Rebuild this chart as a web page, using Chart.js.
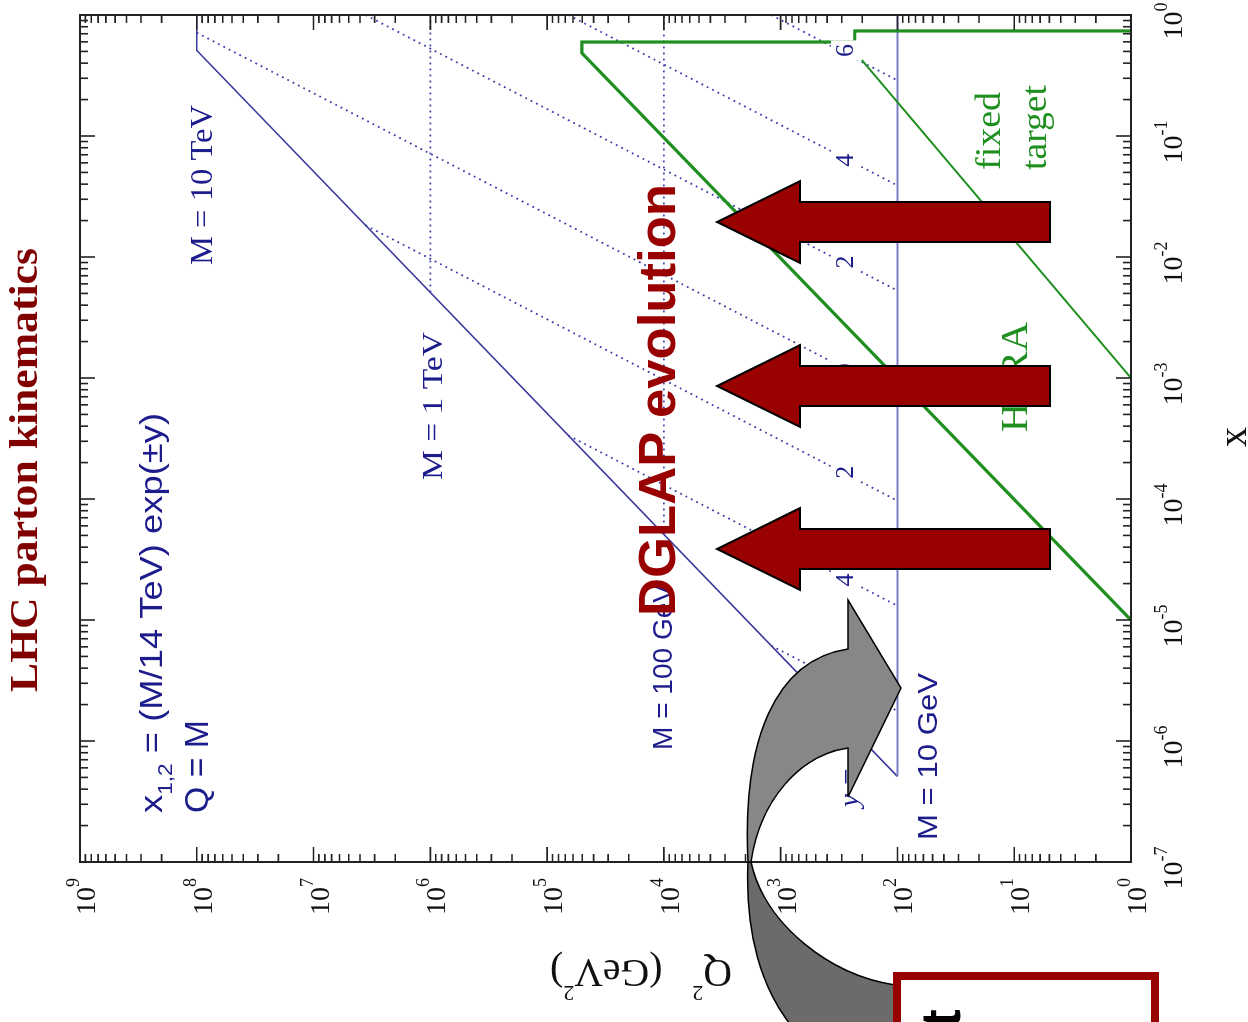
<!DOCTYPE html>
<html>
<head>
<meta charset="utf-8">
<script src="https://cdn.jsdelivr.net/npm/chart.js@4.4.1/dist/chart.umd.min.js"></script>
<style>
  html, body { margin: 0; padding: 0; background: #fff; }
  body { width: 1248px; height: 1022px; position: relative; overflow: hidden; }
  #wrap { position: absolute; left: 113px; top: -113px; width: 1022px; height: 1248px; transform: rotate(-90deg); }
  #overlay { position: absolute; left: 0; top: 0; }
</style>
</head>
<body>
<div id="wrap"><canvas id="kin" width="1022" height="1248"></canvas></div>

<svg id="overlay" width="1248" height="1022" xmlns="http://www.w3.org/2000/svg">
  <text transform="translate(675,616) rotate(-90)" font-family="Liberation Sans, Arial, sans-serif" font-weight="bold" font-size="52" fill="#990000" textLength="432" lengthAdjust="spacingAndGlyphs">DGLAP evolution</text>
  <g fill="#990000" stroke="#000" stroke-width="2" stroke-linejoin="miter">
    <polygon points="1050,202 800,202 800,181 717,222 800,263 800,242 1050,242"/>
    <polygon points="1050,366 800,366 800,345 717,386 800,427 800,406 1050,406"/>
    <polygon points="1050,529 800,529 800,508 717,549 800,590 800,569 1050,569"/>
  </g>
  <g stroke="#000" stroke-width="1.5">
    <path fill="#6b6b6b" d="M 751,862 C 765,925 830,975 895,985 L 895,1030 L 795,1030 C 760,990 745,930 748,862 Z"/>
    <path fill="#878787" d="M 848,649 L 848,600 L 901,688 L 848,797 L 848,748 C 800,755 760,800 751,862 L 748,862 C 742,740 775,660 848,649 Z"/>
  </g>
  <rect x="897" y="976" width="258" height="80" fill="#fff" stroke="#990000" stroke-width="8"/>
  <text transform="translate(960,1028) rotate(-90)" font-family="Liberation Sans, Arial, sans-serif" font-weight="bold" font-size="56" fill="#000">t</text>
</svg>

<script>
// LHC kinematic reach (x, Q2)
const lhcEdgeX = [1, 0.51, 5.1e-7];
const lhcEdgeQ2 = [1e8, 1e8, 100];
// M = 10 GeV line
const m10GeVX = [5.1e-7, 1];
const m10GeVQ2 = [100, 100];
// M = 1 TeV and M = 100 GeV lines
const m1TeVX = [5.1e-3, 1];
const m1TeVQ2 = [1e6, 1e6];
const m100GeVX = [5.1e-5, 1];
const m100GeVQ2 = [1e4, 1e4];
// constant rapidity lines y = 6, 4, 2, 0, -2, -4, -6
const rapidityX = [[1, 0.288], [1, 0.039], [1, 5.28e-3], [0.714, 7.14e-4], [0.0183, 9.67e-5], [3.35e-4, 1.31e-5], [6.14e-6, 1.77e-6]];
const rapidityQ2 = [[1206, 100], [6.58e4, 100], [3.59e6, 100], [1e8, 100], [3.59e6, 100], [6.58e4, 100], [1206, 100]];
// HERA and fixed target
const heraX = [1e-5, 0.485, 0.598, 0.598, 0.738, 0.738];
const heraQ2 = [1, 5.04e4, 5.04e4, 232, 232, 1];
const fixedTargetX = [0.425, 1.0e-3];
const fixedTargetQ2 = [202, 1];
// rapidity labels along Q2 = 282
const yLabelText = ['6', '4', '2', '0', '2', '4', '6'];
const yLabelX = [0.51, 0.063, 0.0091, 0.00117, 0.000166, 0.0000214, 0.00000296];
const yLabelQ2 = 282;
// axis decades
const xDecades = [-7, -6, -5, -4, -3, -2, -1, 0];
const q2Decades = [0, 1, 2, 3, 4, 5, 6, 7, 8, 9];

const BLUE = '#1c1c8c';
const GREEN = '#1f8f1f';
const SERIF = '"Liberation Serif", "Times New Roman", serif';
const SANS = '"Liberation Sans", Arial, sans-serif';

const toPoints = (xs, qs) => xs.map((v, i) => ({ x: v, y: qs[i] }));

const dotted = (xs, qs) => ({
  data: toPoints(xs, qs),
  borderColor: '#3c3caa',
  borderWidth: 1.8,
  borderDash: [1.8, 4.2]
});

const datasets = [
  { data: toPoints(heraX, heraQ2), borderColor: GREEN, borderWidth: 3.2 },
  { data: toPoints(fixedTargetX, fixedTargetQ2), borderColor: GREEN, borderWidth: 2 },
  { data: toPoints(m10GeVX, m10GeVQ2), borderColor: '#7c7cc8', borderWidth: 2 },
  { data: toPoints(lhcEdgeX, lhcEdgeQ2), borderColor: '#3a3a9e', borderWidth: 1.6 },
  dotted(m1TeVX, m1TeVQ2),
  dotted(m100GeVX, m100GeVQ2)
];
rapidityX.forEach((xs, i) => datasets.push(dotted(xs, rapidityQ2[i])));

// texts in the unrotated frame: runs of [text, font, dy], start u, baseline v, width
const texts = [
  { runs: [['LHC parton kinematics', 'bold 40px ' + SERIF]], u: 330, v: 37, w: 444, color: '#800000' },
  { runs: [['x', '32px ' + SANS], ['1,2', '20px ' + SANS, 10], [' = (M/14 TeV) exp(\u00b1y)', '32px ' + SANS]], u: 209, v: 162, w: 400, color: BLUE },
  { runs: [['Q = M', '34px ' + SANS]], u: 209, v: 208, w: 93, color: BLUE },
  { runs: [['M = 10 TeV', '32px ' + SERIF]], u: 757, v: 212, w: 160, color: BLUE },
  { runs: [['M = 1 TeV', '30px ' + SERIF]], u: 542, v: 442, w: 148, color: BLUE },
  { runs: [['M = 100 GeV', '28px ' + SANS]], u: 272, v: 672, w: 166, color: BLUE },
  { runs: [['M = 10 GeV', '28px ' + SANS]], u: 182, v: 937, w: 167, color: BLUE },
  { runs: [['y =', 'italic 28px ' + SERIF]], u: 215, v: 858, w: 40, color: BLUE },
  { runs: [['fixed', '36px ' + SERIF]], u: 852, v: 1000, w: 78, color: GREEN },
  { runs: [['target', '36px ' + SERIF]], u: 852, v: 1046, w: 85, color: GREEN },
  { runs: [['HERA', '38px ' + SERIF]], u: 590, v: 1027, w: 110, color: GREEN },
  { runs: [['x', '40px ' + SERIF]], u: 575, v: 1246, w: 0, color: '#111' },
  { runs: [['Q', '40px ' + SERIF], ['2', '22px ' + SERIF, -26], ['   (GeV', '40px ' + SERIF], ['2', '22px ' + SERIF, -26], [')', '40px ' + SERIF]],
    u: 62, v: 732, w: 182, color: '#111', rot: -Math.PI / 2 }
];

function drawRuns(ctx, t) {
  let total = 0;
  const widths = t.runs.map(r => { ctx.font = r[1]; const w = ctx.measureText(r[0]).width; total += w; return w; });
  const k = t.w ? t.w / total : 1;
  ctx.save();
  ctx.translate(t.u, t.v);
  if (t.rot) ctx.rotate(t.rot);
  ctx.scale(k, 1);
  ctx.fillStyle = t.color;
  ctx.textAlign = 'left';
  ctx.textBaseline = 'alphabetic';
  let pos = 0;
  t.runs.forEach((r, i) => {
    ctx.font = r[1];
    ctx.fillText(r[0], pos, r[2] || 0);
    pos += widths[i];
  });
  ctx.restore();
}

const framePlugin = {
  id: 'frame',
  afterDatasetsDraw(chart) {
    const { ctx, chartArea: a, scales: { x, y } } = chart;
    ctx.save();

    // rapidity labels, with a gap cut in the dotted lines
    ctx.font = '26px ' + SERIF;
    ctx.textAlign = 'center';
    ctx.textBaseline = 'middle';
    const lv = y.getPixelForValue(yLabelQ2);
    yLabelX.forEach((val, i) => {
      const lu = x.getPixelForValue(val);
      ctx.fillStyle = '#fff';
      ctx.fillRect(lu - 10, lv - 14, 20, 28);
      ctx.fillStyle = BLUE;
      ctx.fillText(yLabelText[i], lu, lv + 1);
    });

    // frame
    ctx.strokeStyle = '#222';
    ctx.lineWidth = 2;
    ctx.strokeRect(a.left, a.top, a.right - a.left, a.bottom - a.top);

    // log ticks on all sides
    ctx.lineWidth = 1.6;
    ctx.beginPath();
    xDecades.forEach(e => {
      for (let m = 1; m <= 9; m++) {
        const val = m * Math.pow(10, e);
        if (val > 1.0001) break;
        const p = x.getPixelForValue(val);
        const len = m === 1 ? 15 : 8;
        ctx.moveTo(p, a.bottom); ctx.lineTo(p, a.bottom - len);
        ctx.moveTo(p, a.top); ctx.lineTo(p, a.top + len);
      }
    });
    q2Decades.forEach(e => {
      for (let m = 1; m <= 9; m++) {
        const val = m * Math.pow(10, e);
        if (val > 1.0001e9) break;
        const p = y.getPixelForValue(val);
        const len = m === 1 ? 15 : 8;
        ctx.moveTo(a.left, p); ctx.lineTo(a.left + len, p);
        ctx.moveTo(a.right, p); ctx.lineTo(a.right - len, p);
      }
    });
    ctx.stroke();

    // tick labels 10^n
    ctx.fillStyle = '#111';
    ctx.textAlign = 'left';
    ctx.textBaseline = 'alphabetic';
    const big = '28px ' + SERIF, small = '18px ' + SERIF;
    xDecades.forEach(e => {
      const p = x.getPixelForValue(Math.pow(10, e));
      const ex = String(e);
      ctx.font = big; const w10 = ctx.measureText('10').width;
      ctx.font = small; const we = ctx.measureText(ex).width;
      const start = p - 6 - (w10 + we) / 2;
      ctx.font = big; ctx.fillText('10', start, a.bottom + 51);
      ctx.font = small; ctx.fillText(ex, start + w10, a.bottom + 36);
    });
    q2Decades.forEach(e => {
      const p = y.getPixelForValue(Math.pow(10, e));
      const ex = String(e);
      ctx.font = big; const w10 = ctx.measureText('10').width;
      ctx.font = small; const we = ctx.measureText(ex).width;
      const right = a.left - 16;
      ctx.font = big; ctx.fillText('10', right - we - w10, p + 15);
      ctx.font = small; ctx.fillText(ex, right - we, p - 1);
    });

    texts.forEach(t => drawRuns(ctx, t));
    ctx.restore();
  }
};

new Chart(document.getElementById('kin').getContext('2d'), {
  type: 'scatter',
  data: { datasets: datasets },
  options: {
    responsive: false,
    animation: false,
    devicePixelRatio: 1,
    events: [],
    elements: {
      line: { tension: 0, fill: false, borderJoinStyle: 'miter' },
      point: { radius: 0 }
    },
    datasets: { scatter: { showLine: true, pointRadius: 0 } },
    layout: { padding: { left: 160, right: 15, top: 80, bottom: 117 } },
    plugins: { legend: { display: false }, tooltip: { enabled: false } },
    scales: {
      x: { type: 'logarithmic', min: 1e-7, max: 1, display: false },
      y: { type: 'logarithmic', min: 1, max: 1e9, display: false }
    }
  },
  plugins: [framePlugin]
});
</script>
</body>
</html>
